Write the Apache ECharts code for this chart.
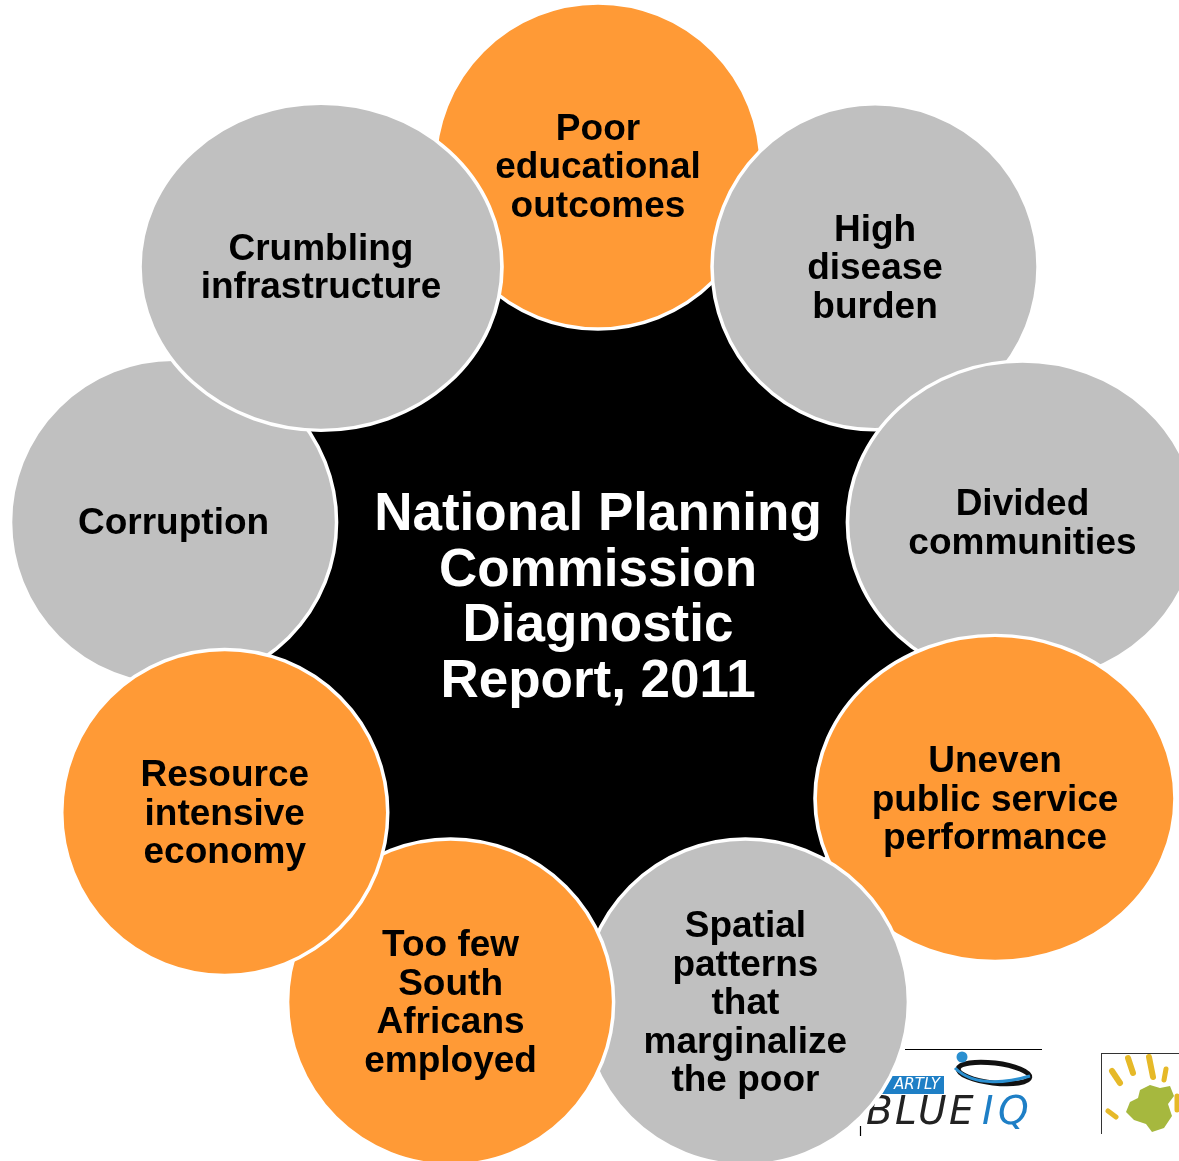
<!DOCTYPE html>
<html><head><meta charset="utf-8">
<script src="https://cdn.jsdelivr.net/npm/echarts@6/dist/echarts.min.js"></script>
<style>html,body{margin:0;padding:0;background:#fff}#c{width:1179px;height:1161px}</style>
</head><body><div id="c"></div>
<script>
// ---- data ----
const centreTitle = 'National Planning\nCommission\nDiagnostic\nReport, 2011';
const topics = [
  'Poor\neducational\noutcomes',
  'High\ndisease\nburden',
  'Divided\ncommunities',
  'Uneven\npublic service\nperformance',
  'Spatial\npatterns\nthat\nmarginalize\nthe poor',
  'Too few\nSouth\nAfricans\nemployed',
  'Resource\nintensive\neconomy',
  'Corruption',
  'Crumbling\ninfrastructure'
];
const topicGroup = ['key','other','other','key','other','key','key','other','other'];

// ---- layout / style (not data) ----
const ORANGE = '#FF9A36', GREY = '#C0C0C0';
const FONT = '"Liberation Sans", Arial, Helvetica, sans-serif';
const step = 360 / topics.length;
const drawOrder = [0,1,2,3,4,5,7,6,8];
const BASE_SIZE = [326, 326];
const RING_PX = 431, RING_MAX = 1.2;
// shapes that were stretched / nudged in the original diagram
const shapeTweaks = {
  2: { size: [350, 322] },
  3: { size: [360, 326], ring: 1.033, angle: 116.9 },
  8: { size: [362, 327] }
};

const topicData = drawOrder.map(i => {
  const t = shapeTweaks[i] || {};
  return {
    value: [t.ring || 1, t.angle != null ? t.angle : i * step],
    name: topics[i],
    symbolSize: t.size || BASE_SIZE,
    itemStyle: { color: topicGroup[i] === 'key' ? ORANGE : GREY },
    label: { formatter: topics[i] }
  };
});

const chart = echarts.init(document.getElementById('c'), null, {renderer: 'canvas'});

const LF = 'italic 300 39px "DejaVu Sans", sans-serif';
const logo = [
  // SMARTLY BLUE IQ logo
  {type:'line', shape:{x1:905,y1:1049.5,x2:1042,y2:1049.5}, style:{stroke:'#000',lineWidth:1.2}, z:0},
  {type:'line', shape:{x1:860.5,y1:1126,x2:860.5,y2:1136}, style:{stroke:'#000',lineWidth:1.2}, z:0},
  {type:'rect', shape:{x:850,y:1076,width:94,height:18}, style:{fill:'#1E7FC6'}, z:0},
  {type:'text', style:{x:940,y:1085,text:'ARTLY',fill:'#fff',font:'italic 15px "DejaVu Sans", sans-serif',align:'right',verticalAlign:'middle'}, z:0},
  {type:'text', style:{x:866,y:1114,text:'B',fill:'#222',font:LF,verticalAlign:'middle'}, z:0},
  {type:'text', style:{x:895,y:1114,text:'L',fill:'#222',font:LF,verticalAlign:'middle'}, z:0},
  {type:'text', style:{x:918,y:1114,text:'U',fill:'#222',font:LF,verticalAlign:'middle'}, z:0},
  {type:'text', style:{x:949,y:1114,text:'E',fill:'#222',font:LF,verticalAlign:'middle'}, z:0},
  {type:'text', style:{x:982,y:1114,text:'I',fill:'#1E7FC6',font:LF,verticalAlign:'middle'}, z:0},
  {type:'text', style:{x:998,y:1114,text:'Q',fill:'#1E7FC6',font:LF,verticalAlign:'middle'}, z:0},
  {type:'ellipse', shape:{cx:994,cy:1073,rx:36,ry:10}, rotation:-0.12, originX:994, originY:1073, style:{fill:null,stroke:'#111',lineWidth:5}, z:0},
  {type:'bezierCurve', shape:{x1:955,y1:1068,cpx1:975,cpy1:1088,cpx2:1010,cpy2:1082,x2:1030,y2:1076}, style:{fill:null,stroke:'#2A8FD0',lineWidth:3}, z:0},
  {type:'circle', shape:{cx:962,cy:1057,r:5.5}, style:{fill:'#2A8FD0'}, z:0},
  // hand logo
  {type:'line', shape:{x1:1101.5,y1:1053,x2:1101.5,y2:1134}, style:{stroke:'#333',lineWidth:1}, z:0},
  {type:'line', shape:{x1:1101,y1:1053.5,x2:1179,y2:1053.5}, style:{stroke:'#333',lineWidth:1}, z:0},
  {type:'polyline', shape:{points:[[1112,1071],[1120,1083]]}, style:{stroke:'#E6B928',lineWidth:6,lineCap:'round'}, z:0},
  {type:'polyline', shape:{points:[[1128,1058],[1133,1073]]}, style:{stroke:'#E6B928',lineWidth:6,lineCap:'round'}, z:0},
  {type:'polyline', shape:{points:[[1149,1057],[1153,1077]]}, style:{stroke:'#E6B928',lineWidth:6,lineCap:'round'}, z:0},
  {type:'polyline', shape:{points:[[1166,1069],[1164,1080]]}, style:{stroke:'#E6B928',lineWidth:5,lineCap:'round'}, z:0},
  {type:'polyline', shape:{points:[[1108,1111],[1116,1117]]}, style:{stroke:'#E6B928',lineWidth:5,lineCap:'round'}, z:0},
  {type:'polyline', shape:{points:[[1177,1096],[1177,1110]]}, style:{stroke:'#E6B928',lineWidth:5,lineCap:'round'}, z:0},
  {type:'polygon', shape:{points:[[1140,1090],[1150,1085],[1160,1088],[1170,1086],[1174,1096],[1168,1104],[1172,1116],[1164,1128],[1152,1132],[1146,1124],[1134,1120],[1126,1112],[1130,1102],[1138,1098]]}, style:{fill:'#A6B83E'}, z:0}
];

chart.setOption({
  backgroundColor: '#ffffff',
  animation: false,
  polar: { center: [598, 597], radius: RING_PX * RING_MAX },
  angleAxis: { type: 'value', min: 0, max: 360, startAngle: 90, clockwise: true, show: false },
  radiusAxis: { type: 'value', min: 0, max: RING_MAX, show: false },
  graphic: { elements: logo },
  series: [
    {
      type: 'scatter', coordinateSystem: 'polar', silent: true, z: 1,
      symbol: 'circle', symbolSize: 690,
      itemStyle: { color: '#000', opacity: 1 },
      label: { show: true, position: 'inside', formatter: centreTitle, color: '#fff', offset: [0, 2],
               fontFamily: FONT, fontWeight: 'bold', fontSize: 53, lineHeight: 55.5, align: 'center' },
      data: [{ value: [0, 0], name: 'centre' }]
    },
    {
      type: 'scatter', coordinateSystem: 'polar', silent: true, z: 2,
      symbol: 'circle',
      itemStyle: { borderColor: '#fff', borderWidth: 3.5, opacity: 1 },
      label: { show: true, position: 'inside', color: '#000', offset: [0, 2],
               fontFamily: FONT, fontWeight: 'bold', fontSize: 37, lineHeight: 38.5, align: 'center' },
      data: topicData
    }
  ]
});
</script>
</body></html>
